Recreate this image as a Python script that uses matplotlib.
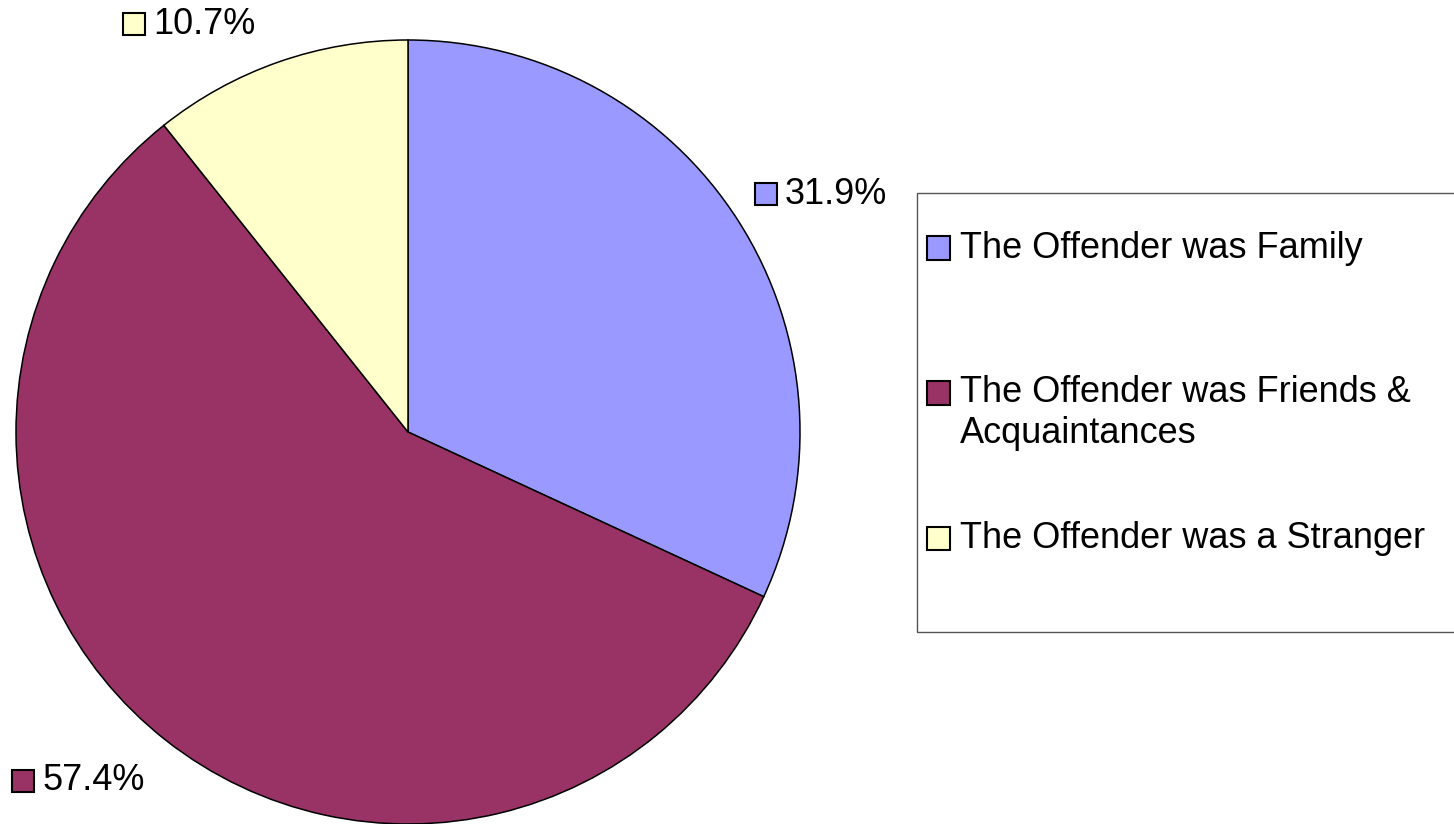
import matplotlib.pyplot as plt
from matplotlib.patches import Rectangle

categories = ['The Offender was Family',
              'The Offender was Friends &\nAcquaintances',
              'The Offender was a Stranger']
shares = [31.9, 57.4, 10.7]
colors = ['#9999FF', '#993366', '#FFFFCC']

W, H = 1454, 824
plt.rcParams['font.family'] = ['Liberation Sans', 'DejaVu Sans']
FS = 26

fig = plt.figure(figsize=(W / 100, H / 100), dpi=100)

# pie: center ~ (408, 432) px, radius ~392 px
cx, cy, r = 408, 432, 392
ax = fig.add_axes([(cx - r) / W, 1 - (cy + r) / H, 2 * r / W, 2 * r / H])
ax.pie(shares, colors=colors, startangle=90, counterclock=False,
       wedgeprops=dict(edgecolor='black', linewidth=1.1))
ax.set_xlim(-1, 1)
ax.set_ylim(-1, 1)


def px_box(x, y, size, color):
    # small square marker, x = left edge, y = center (pixels from top)
    fig.add_artist(Rectangle((x / W, 1 - (y + size / 2) / H), size / W, size / H,
                             facecolor=color, edgecolor='black', linewidth=1.5,
                             transform=fig.transFigure))


# data labels
label_pos = [(755, 194), (12, 781), (123, 24)]
for (x, y), val, c in zip(label_pos, shares, colors):
    px_box(x, y, 22, c)
    fig.text((x + 30) / W, 1 - y / H, f'{val}%', fontsize=FS, va='center', ha='left')

# legend box (runs off the right edge like the original)
fig.add_artist(Rectangle((917 / W, 1 - 632 / H), (W + 10 - 917) / W, (632 - 193) / H,
                         facecolor='white', edgecolor='#555555', linewidth=1.0,
                         transform=fig.transFigure, zorder=0))
leg_y = [248, 393, 538]
for y, name, c in zip(leg_y, categories, colors):
    px_box(927, y, 23, c)
    for k, ln in enumerate(name.split('\n')):
        fig.text(960 / W, 1 - (y + k * 40) / H, ln, fontsize=FS, va='center', ha='left')

fig.savefig('out.png', dpi=100)
